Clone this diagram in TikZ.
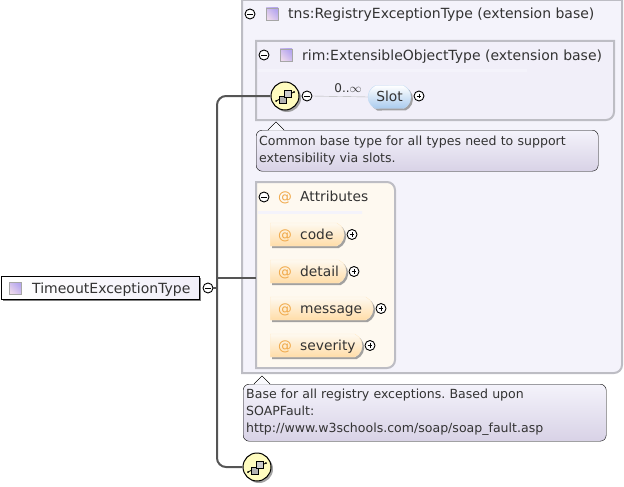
\documentclass[tikz,border=0pt]{standalone}
\usepackage{fontspec}
\setmainfont{DejaVu Sans}
\usepackage{tikz}
\usetikzlibrary{calc}
\usetikzlibrary{shapes.misc}
\usetikzlibrary{shadows}

\definecolor{boxline}{HTML}{BDBDC4}
\definecolor{lavender}{HTML}{F4F3FB}
\definecolor{lavenderin}{HTML}{F1EFF9}
\definecolor{cream}{HTML}{FEF9F0}
\definecolor{attrlow}{HTML}{FFDDA8}
\definecolor{slotlow}{HTML}{A9CBEE}
\definecolor{notelow}{HTML}{D8D2E6}
\definecolor{busgray}{HTML}{555555}
\definecolor{txtgray}{HTML}{333333}
\definecolor{atorange}{HTML}{F0A848}

\tikzset{
  x=1pt,y=-1pt,
  every node/.style={text=txtgray,inner sep=0pt},
  labeltext/.style={font=\fontsize{13.8}{16}\selectfont,text height=11.5pt,text depth=1.5pt},
  headtext/.style={labeltext,font=\fontsize{14}{16}\selectfont,anchor=west},
  groupbox/.style={draw=boxline,line width=2pt},
  attrnode/.style={rounded rectangle,rounded rectangle west arc=none,rounded rectangle arc length=130,
    anchor=west,minimum height=23pt,top color=cream,bottom color=attrlow,
    draw=attrlow!60!white,drop shadow={shadow xshift=2pt,shadow yshift=-2pt,fill=black!45,opacity=0.8}},
  slotnode/.style={rounded rectangle,rounded rectangle arc length=130,minimum height=23pt,minimum width=43pt,
    top color=white,bottom color=slotlow,draw=slotlow!70!white,labeltext,
    drop shadow={shadow xshift=2pt,shadow yshift=-2pt,fill=black!45,opacity=0.8}},
  rootnode/.style={draw=black,line width=1pt,minimum width=198pt,minimum height=23pt,anchor=west,
    left color=white,right color=lavenderin,drop shadow={shadow xshift=1.5pt,shadow yshift=-1.5pt,fill=black!50,opacity=1}},
  seqnode/.style={circle,draw=black,line width=1pt,minimum size=28pt,fill=yellow!25!white,
    drop shadow={shadow xshift=2pt,shadow yshift=-2pt,fill=black!45,opacity=0.8}},
  typeicon/.style={draw=gray!70,minimum size=12pt,shading=axis,top color=white!85!violet,bottom color=violet!35!blue!35!white,shading angle=135},
  minusnode/.style={circle,draw=black,line width=0.9pt,fill=white,minimum size=10pt,
    path picture={\draw[black,line width=0.9pt] (-2.6,0) -- (2.6,0);}},
  plusnode/.style={circle,draw=black,line width=0.9pt,fill=white,minimum size=10pt,
    path picture={\draw[black,line width=0.8pt] (-2.4,0) -- (2.4,0) (0,-2.4) -- (0,2.4);}},
  notenode/.style={draw=black,rounded corners=6pt,anchor=north west,top color=lavender,bottom color=notelow,
    font=\fontsize{12.55}{17}\selectfont\frenchspacing,align=left,text=txtgray,inner xsep=3pt,inner ysep=0pt},
  atsign/.style={labeltext,text=atorange},
  busline/.style={draw=busgray,line width=2pt,rounded corners=9pt},
  sepline/.style={draw=none,left color=lavender,middle color=black!20,right color=lavender}
}

% small icon of two linked squares
\newcommand{\seqicon}[1]{
  \draw[black,line width=0.7pt] ($(#1)+(-9,5)$) -- ($(#1)+(9,-4)$);
  \fill[black] ($(#1)+(-9,5)$) circle (1) ($(#1)+(9,-4)$) circle (1);
  \draw[black,fill=gray!60] ($(#1)+(-6,0)$) rectangle ($(#1)+(1,7)$);
  \draw[black,fill=gray!40] ($(#1)+(-1,-6)$) rectangle ($(#1)+(6,1)$);
}

\begin{document}
\begin{tikzpicture}
\useasboundingbox (0,0) rectangle (624,487);
% group boxes
\draw[groupbox,fill=lavender] (242,0) -- (622,0) [rounded corners=8pt] -- (622,373) [sharp corners] -- (242,373) -- cycle;
\draw[groupbox,fill=lavenderin] (256,41) -- (614,41) [rounded corners=8pt] -- (614,120) [sharp corners] -- (256,120) -- cycle;
\draw[groupbox,fill=cream] (256,182) [rounded corners=8pt] -- (395,182) -- (395,368) [sharp corners] -- (256,368) -- cycle;
\coordinate (attrwest) at (256,278);
\shade[sepline] (244,28) rectangle (530,30);
\shade[sepline] (258,70) rectangle (527,72);
\shade[sepline] (258,211) rectangle (362,213);
% headers
\node[minusnode] (tnsminus) at (250,14) {};
\node[typeicon] (tnsicon) at (272,14) {};
\node[headtext] (tnstext) at (288,14) {tns:RegistryExceptionType (extension base)};
\node[minusnode] (rimminus) at (264,55) {};
\node[typeicon] (rimicon) at (286,55) {};
\node[headtext] (rimtext) at (302,55) {rim:ExtensibleObjectType (extension base)};
\node[minusnode] (attrminus) at (264,197) {};
\node[atsign] (attrat) at (285,196.5) {@};
\node[labeltext,anchor=west] (attrtext) at (300,196.5) {Attributes};
% root
\node[rootnode] (root) at (1,288) {};
\node[typeicon] (rooticon) at (15,288) {};
\node[headtext] (roottext) at (32,288) {TimeoutExceptionType};
\node[minusnode] (rootminus) at (208,288) {};
\coordinate (bus) at (217,288);
\coordinate (busbranch) at (217,278);
% sequences
\node[seqnode] (seqtop) at (285,96) {};
\node[seqnode] (seqbottom) at (257,467) {};
\draw[busline] (bus) |- (seqtop.west);
\draw[busline] (bus) |- (seqbottom.west);
\draw[busline,line width=1.5pt] (rootminus.east) -- (bus);
\draw[busline,line width=1.5pt] (busbranch) -- (attrwest);
\seqicon{seqtop}
\seqicon{seqbottom}
% slot
\node[minusnode] (seqminus) at (307,96) {};
\node[slotnode] (slot) at (389.5,97) {Slot};
\node[plusnode] (slotplus) at (419,96) {};
\draw[gray!60] (seqminus.east) -- (slot.west);
\node[font=\fontsize{12}{14}\selectfont] (slotcount) at (348,88) {0..$\infty$};
% attributes
\node[attrnode,minimum width=74pt] (code) at (270,234.5) {};
\node[attrnode,minimum width=76pt] (detail) at (270,271.5) {};
\node[attrnode,minimum width=103pt] (message) at (270,308.5) {};
\node[attrnode,minimum width=92pt] (severity) at (270,345.5) {};
\foreach \n/\p in {code/352,detail/354,message/381,severity/370}{
  \node[atsign] (\n at) at ($(\n.west)+(15,0)$) {@};
  \node[labeltext,anchor=west] (\n text) at ($(\n.west)+(30,0)$) {\n};
  \node[plusnode] (\n plus) at (\p,0 |- \n.west) {};
}
% notes
\draw[black,fill=white] (268,130) -- (276,122) -- (284,130);
\node[notenode,minimum width=342pt,minimum height=41pt,text width=336pt] (noteone) at (256,130) {Common base type for all types need to support\\extensibility via slots.};
\fill[white!50!lavender] (268.5,130.5) -- (276,122.7) -- (283.5,130.5) -- cycle;
\draw[black,fill=white] (254,384) -- (262,376) -- (270,384);
\node[notenode,minimum width=363pt,minimum height=57pt,text width=357pt] (notetwo) at (243,384) {Base for all registry exceptions. Based upon\\SOAPFault:\\http://www.w3schools.com/soap/soap\_fault.asp};
\fill[white!50!lavender] (254.5,384.5) -- (262,376.7) -- (269.5,384.5) -- cycle;
\end{tikzpicture}
\end{document}
